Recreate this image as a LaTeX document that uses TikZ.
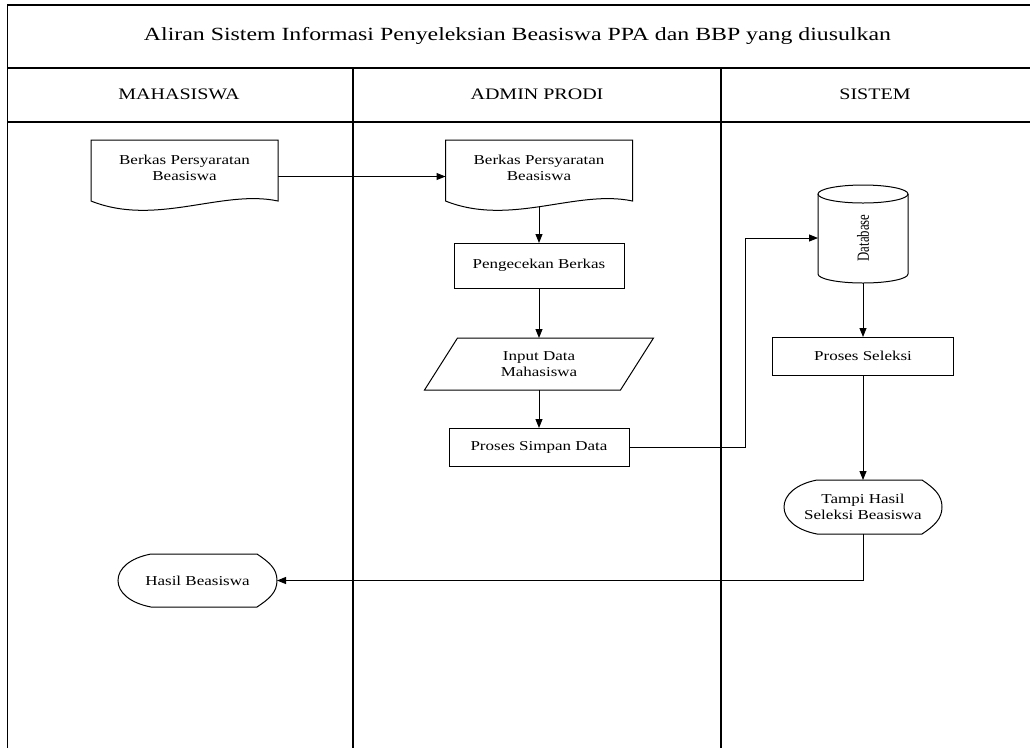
\documentclass[tikz,border=0pt]{standalone}
\usepackage{fontspec}
\setmainfont{Liberation Serif}[FakeStretch=1.25]
\newfontfamily\titlefont{Liberation Serif}[FakeStretch=1.28]
\newfontfamily\narrowserif{Liberation Serif}[FakeStretch=0.75]
\usetikzlibrary{arrows.meta,calc}
\newcommand\docshape[1]{%
  \draw[shp] ($(#1.south east)+(0,6)$) -- (#1.north east) -- (#1.north west) -- ($(#1.south west)+(0,6)$)
    .. controls +(65,26) and +(-56,-12) .. ($(#1.south east)+(0,6)$) -- cycle;}
\newcommand\dispshape[1]{%
  \draw[shp] ($(#1.north west)+(33,0)$) -- ($(#1.north east)+(-20,0)$)
    .. controls +(12,8) and +(0,-12) .. (#1.east)
    .. controls +(0,12) and +(12,-8) .. ($(#1.south east)+(-20,0)$)
    -- ($(#1.south west)+(33,0)$)
    .. controls +(-21,-4) and +(0,12) .. (#1.west)
    .. controls +(0,-12) and +(-21,4) .. ($(#1.north west)+(33,0)$) -- cycle;}
\begin{document}
\begin{tikzpicture}[x=1pt,y=-1pt,
  shp/.style={draw=black, line width=1pt},
  txt/.style={font=\fontsize{13.6}{16}\selectfont, align=center, inner sep=0pt, outer sep=0pt},
  hdr/.style={font=\fontsize{16}{19}\selectfont, anchor=base, inner sep=0pt},
  arr/.style={line width=1pt, -{Triangle[length=9pt,width=7pt]}}]
\useasboundingbox (0,0) rectangle (1030,748);
\fill[white] (0,0) rectangle (1030,748);
% frame
\draw[line width=1.4pt] (7,5) -- (1030,5);
\draw[line width=1pt] (7,5) -- (7,748);
\draw[line width=1.8pt] (7,68) -- (1030,68);
\draw[line width=1.8pt] (7,122) -- (1030,122);
\draw[line width=1.2pt] (353,68) -- (353,748);
\draw[line width=1.2pt] (721,68) -- (721,748);
% titles
\node[font=\titlefont\fontsize{18.6}{22}\selectfont, anchor=base, inner sep=0pt] (title) at (517.5,40) {Aliran Sistem Informasi Penyeleksian Beasiswa PPA dan BBP yang diusulkan};
\node[hdr] (h1) at (179,99) {MAHASISWA};
\node[hdr] (h2) at (537,99) {ADMIN PRODI};
\node[hdr] (h3) at (875,99) {SISTEM};
% nodes
\node[txt, minimum width=187pt, minimum height=55pt] (d1) at (184.5,167.5) {Berkas Persyaratan\\Beasiswa};
\docshape{d1}
\node[txt, minimum width=187pt, minimum height=55pt] (d2) at (539,167.5) {Berkas Persyaratan\\Beasiswa};
\docshape{d2}
\node[txt, shp, minimum width=170pt, minimum height=45pt] (chk) at (539,265.5) {Pengecekan Berkas};
\node[txt, minimum width=196pt, minimum height=52pt] (inp) at (539,364) {Input Data\\Mahasiswa};
\draw[shp] ([xshift=-16.5pt]inp.south west) -- ([xshift=16.5pt]inp.north west) -- ([xshift=16.5pt]inp.north east) -- ([xshift=-16.5pt]inp.south east) -- cycle;
\node[txt, shp, minimum width=180pt, minimum height=38pt] (sim) at (539,447) {Proses Simpan Data};
\node[txt, minimum width=90pt, minimum height=80pt] (db) at (863,234) {};
\draw[shp] (db.north west) -- (db.south west) arc[start angle=180, end angle=360, x radius=45pt, y radius=9pt] -- (db.north east);
\draw[shp] (db.north) ellipse [x radius=45pt, y radius=9pt];
\node[font=\narrowserif\fontsize{17}{19}\selectfont, rotate=90, inner sep=0pt] (dbl) at (863,238) {Database};
\node[txt, shp, minimum width=181pt, minimum height=38pt] (sel) at (863,356) {Proses Seleksi};
\node[txt, minimum width=158pt, minimum height=54pt] (tam) at (863,507) {Tampi Hasil\\Seleksi Beasiswa};
\dispshape{tam}
\node[txt, minimum width=159pt, minimum height=53pt] (has) at (197.5,580.5) {Hasil Beasiswa};
\dispshape{has}
% connectors
\coordinate (j1) at (745,238);
\draw[arr] ([yshift=-9pt]d1.east) -- ([yshift=-9pt]d2.west);
\draw[arr] ([yshift=-12pt]d2.south) -- (chk.north);
\draw[arr] (chk.south) -- (inp.north);
\draw[arr] (inp.south) -- (sim.north);
\draw[arr] (sim.east) -| (j1) -- ([yshift=-4pt]db.west);
\draw[arr] ([yshift=-9pt]db.south) -- (sel.north);
\draw[arr] (sel.south) -- (tam.north);
\draw[arr] (tam.south) |- (has.east);
\end{tikzpicture}
\end{document}
